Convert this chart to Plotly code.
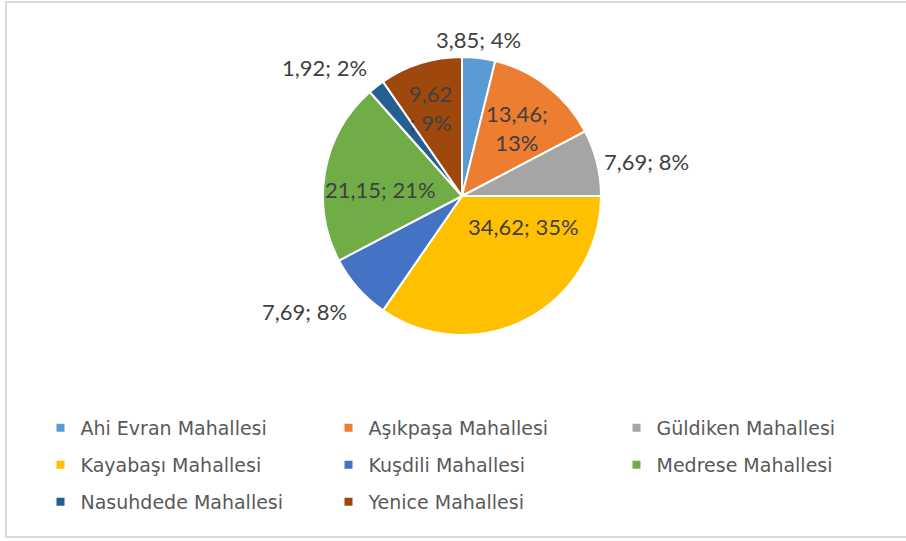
import math
import plotly.graph_objects as go

# Neighbourhood shares (%)
labels = ["Ahi Evran Mahallesi", "Aşıkpaşa Mahallesi", "Güldiken Mahallesi",
          "Kayabaşı Mahallesi", "Kuşdili Mahallesi", "Medrese Mahallesi",
          "Nasuhdede Mahallesi", "Yenice Mahallesi"]
values = [3.85, 13.46, 7.69, 34.62, 7.69, 21.15, 1.92, 9.62]
# Rounded percentages as printed on the slices (adjusted to total 100)
pct_text = [4, 13, 8, 35, 8, 21, 2, 9]

colors = ["#5B9BD5", "#ED7D31", "#A5A5A5", "#FFC000",
          "#4472C4", "#70AD47", "#255E91", "#9E480E"]

# Label placement: angular offset from slice middle (deg), radius factor,
# horizontal anchor and where the text breaks onto a second line
label_dangle = [-1.0, 0.5, 0.0, -36.0, -4.0, -6.0, 2.0, -2.5]
label_rfac = [1.13, 0.63, 1.04, 0.49, 1.16, 0.59, 1.14, 0.67]
label_anchor = ["center", "center", "left", "center", "right", "center", "right", "center"]
label_break = ["none", "after", "none", "none", "none", "none", "none", "before"]

W, H = 906, 541
CX, CY, R = 462.0, 196.0, 139.0

fig = go.Figure()
fig.add_trace(go.Pie(
    labels=labels, values=values, sort=False, direction="clockwise", rotation=0,
    marker=dict(colors=colors, line=dict(color="white", width=2)),
    textinfo="none", hoverinfo="label+value+percent", showlegend=False,
    domain=dict(x=[(CX - R) / W, (CX + R) / W], y=[1 - (CY + R) / H, 1 - (CY - R) / H]),
))

# Data labels, positioned around the pie from each slice's angle
total = sum(values)
cum = 0.0
annotations = []
for i, v in enumerate(values):
    mid = (cum + v / 2) / total * 360.0
    cum += v
    a = math.radians(mid + label_dangle[i])
    px = CX + R * label_rfac[i] * math.sin(a)
    py = CY - R * label_rfac[i] * math.cos(a)
    num = f"{v:.2f}".replace(".", ",")
    if label_break[i] == "after":
        txt = f"{num};<br>{pct_text[i]}%"
    elif label_break[i] == "before":
        txt = f"{num}<br>; {pct_text[i]}%"
    else:
        txt = f"{num}; {pct_text[i]}%"
    annotations.append(dict(
        x=px / W, y=1 - py / H, xref="paper", yref="paper", text=txt,
        showarrow=False, xanchor=label_anchor[i], yanchor="middle",
        font=dict(family="Lato", size=22, color="#404040"),
    ))

# Legend entries as small squares, three per row
legend_rows = ["legend", "legend", "legend", "legend2", "legend2", "legend2", "legend3", "legend3"]
for lab, col, lg in zip(labels, colors, legend_rows):
    fig.add_trace(go.Scatter(
        x=[None], y=[None], mode="markers", name=lab, legend=lg,
        marker=dict(symbol="square", size=8, color=col),
        hoverinfo="skip",
    ))

row_y = [428, 465, 502]
leg_common = dict(orientation="h", xanchor="left", yanchor="middle", x=40.5 / W,
                  entrywidth=243, entrywidthmode="pixels",
                  font=dict(family="DejaVu Sans", size=19, color="#595959"),
                  bgcolor="rgba(0,0,0,0)", itemclick=False, itemdoubleclick=False)

fig.update_layout(
    width=W, height=H,
    margin=dict(l=0, r=0, t=0, b=0),
    paper_bgcolor="white", plot_bgcolor="white",
    xaxis=dict(visible=False), yaxis=dict(visible=False),
    annotations=annotations,
    legend=dict(leg_common, y=1 - row_y[0] / H),
    legend2=dict(leg_common, y=1 - row_y[1] / H),
    legend3=dict(leg_common, y=1 - row_y[2] / H),
    shapes=[dict(type="rect", xref="paper", yref="paper",
                 x0=6 / W, x1=1.02, y0=1 - 537 / H, y1=1 - 2 / H,
                 line=dict(color="#D9D9D9", width=2), fillcolor="rgba(0,0,0,0)")],
)

fig.write_html("out.html")
